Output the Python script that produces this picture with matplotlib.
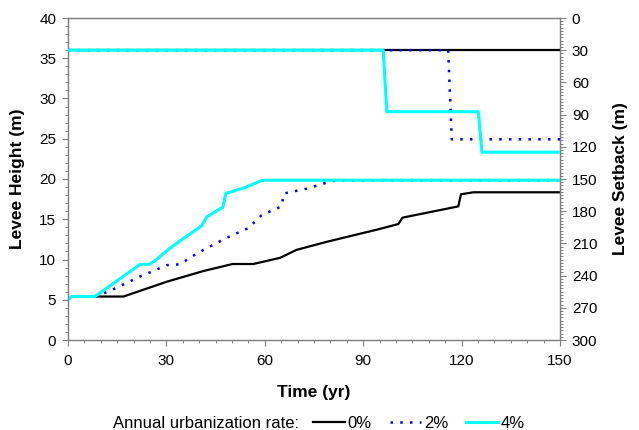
import matplotlib
matplotlib.use("Agg")
import matplotlib.pyplot as plt
from matplotlib.ticker import MultipleLocator
from matplotlib.lines import Line2D

plt.rcParams['font.family'] = ['Liberation Sans', 'DejaVu Sans']

# Levee height (m) vs time (yr)
t_h0 = [8.2, 16.9, 30.2, 41.3, 50.2, 56.5, 64.6, 69.7, 78.9, 94.1, 100.7, 102.0, 119.0, 119.8, 123.6, 150]
h_h0 = [5.4, 5.4, 7.25, 8.57, 9.44, 9.44, 10.2, 11.2, 12.2, 13.7, 14.4, 15.2, 16.6, 18.1, 18.35, 18.35]

t_h2 = [8.2, 12.8, 22.0, 25.0, 30.1, 34.1, 39.7, 48.4, 55.0, 59.0, 65.1, 65.8, 72.8, 78.9, 81.9, 150]
h_h2 = [5.4, 6.1, 7.9, 8.4, 9.3, 9.4, 10.85, 12.7, 13.9, 15.5, 16.6, 18.2, 18.8, 19.55, 19.85, 19.85]

t_h4 = [0.0, 1.0, 8.2, 22.0, 24.8, 27.0, 30.6, 34.1, 40.8, 42.3, 47.2, 48.1, 54.0, 59.0, 60.0, 150]
h_h4 = [4.95, 5.4, 5.4, 9.4, 9.4, 10.0, 11.25, 12.3, 14.2, 15.3, 16.5, 18.2, 18.95, 19.8, 19.85, 19.85]

# Levee setback (m) vs time (yr)
t_s0 = [0, 150]
s_s0 = [30, 30]
t_s2 = [0, 115.9, 117.0, 150]
s_s2 = [30, 30, 113, 113]
t_s4 = [0, 96.1, 97.2, 125.1, 126.2, 150]
s_s4 = [30, 30, 87.3, 87.3, 125, 125]

labels = ['0%', '2%', '4%']
colors = ['#000000', '#0000FF', '#00FFFF']
styles = ['-', (0, (1, 2.9)), '-']
widths = [1.6, 1.8, 2.2]

fig = plt.figure(figsize=(6.39, 4.30), dpi=100)
ax = fig.add_axes([68/639, 90/430, 492/639, 322/430])
ax2 = ax.twinx()

ax.plot(t_h0, h_h0, color=colors[0], ls=styles[0], lw=widths[0], zorder=2)
ax.plot(t_h2, h_h2, color=colors[1], ls=styles[1], lw=widths[1], zorder=3)
ax.plot(t_h4, h_h4, color=colors[2], ls=styles[2], lw=widths[2], zorder=4)
ax2.plot(t_s0, s_s0, color=colors[0], ls=styles[0], lw=widths[0], zorder=2)
ax2.plot(t_s2, s_s2, color=colors[1], ls=styles[1], lw=widths[1], zorder=3)
ax2.plot(t_s4, s_s4, color=colors[2], ls=styles[2], lw=widths[2], zorder=4)

ax.set_xlim(0, 150)
ax.set_ylim(0, 40)
ax2.set_ylim(300, 0)

ax.xaxis.set_major_locator(MultipleLocator(30))
ax.xaxis.set_minor_locator(MultipleLocator(5))
ax.yaxis.set_major_locator(MultipleLocator(5))
ax.yaxis.set_minor_locator(MultipleLocator(1))
ax2.yaxis.set_major_locator(MultipleLocator(30))
ax2.yaxis.set_minor_locator(MultipleLocator(3))

gray = '#808080'
for a in (ax, ax2):
    for s in a.spines.values():
        s.set_color(gray)
        s.set_linewidth(0.9)
    a.tick_params(which='major', direction='out', length=4.5, width=0.8, color=gray,
                  labelsize=11, labelcolor='black', pad=4)
    a.tick_params(which='minor', direction='out', length=2.3, width=0.7, color=gray)
ax.tick_params(axis='x', which='major', pad=5.5)

ax.set_xlabel('Time (yr)', fontsize=12.5, fontweight='bold', va='center')
ax.set_ylabel('Levee Height (m)', fontsize=12.5, fontweight='bold', va='center')
ax2.set_ylabel('Levee Setback (m)', fontsize=12.5, fontweight='bold', va='center')
ax.xaxis.set_label_coords((314 - 68) / 492, (340 - 392) / 322)
ax.yaxis.set_label_coords((18 - 68) / 492, 0.5)
ax2.yaxis.set_label_coords((620 - 68) / 492, 0.5)

handles = [Line2D([], [], color=c, ls=s, lw=w) for c, s, w in zip(colors, styles, widths)]
ly = (430 - 423) / 430
fig.text(113/639, ly, 'Annual urbanization rate:', fontsize=12, va='center', ha='left')
fig.legend(handles, labels, loc='center left', bbox_to_anchor=(313/639, ly), ncol=3,
           frameon=False, fontsize=12, handlelength=1.9, handletextpad=0.15, columnspacing=1.1,
           borderaxespad=0, borderpad=0)

fig.savefig('out.png', dpi=100)
